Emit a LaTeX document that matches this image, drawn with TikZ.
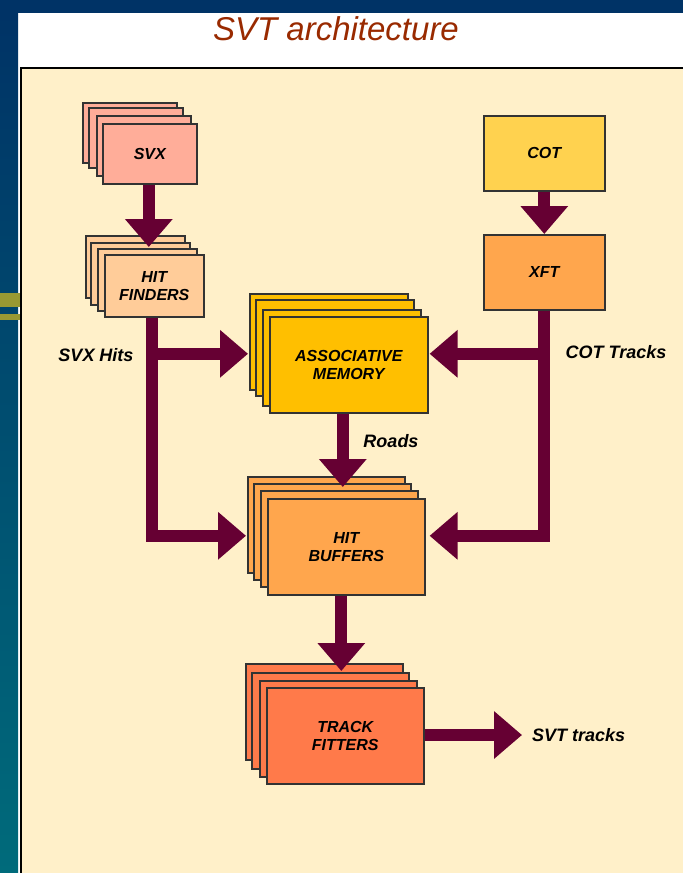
\documentclass[tikz,border=0pt]{standalone}
\usepackage{fontspec}
\setmainfont{Liberation Sans}
\usetikzlibrary{arrows.meta}
\definecolor{cream}{HTML}{FFF0C9}
\definecolor{svxc}{HTML}{FFAD99}
\definecolor{hfc}{HTML}{FFCC99}
\definecolor{amc}{HTML}{FFBF00}
\definecolor{hbc}{HTML}{FFA64D}
\definecolor{tfc}{HTML}{FF7A4A}
\definecolor{cotc}{HTML}{FFD24F}
\definecolor{xftc}{HTML}{FFA64D}
\definecolor{arrowc}{HTML}{660033}
\definecolor{boxline}{HTML}{333333}
\definecolor{titlec}{HTML}{992A00}
\definecolor{navy}{HTML}{003366}
\definecolor{tealb}{HTML}{006B7B}
\definecolor{olive}{HTML}{999933}
\begin{document}
\begin{tikzpicture}[x=1pt,y=-1pt,
  box/.style={draw=boxline, line width=1.6pt, anchor=north west, inner sep=0pt, align=center,
              font=\fontsize{16}{18}\selectfont\bfseries\itshape},
  svxbox/.style={box, fill=svxc, minimum width=94pt, minimum height=60pt},
  hfbox/.style={box, fill=hfc, minimum width=99pt, minimum height=62pt},
  ambox/.style={box, fill=amc, minimum width=158pt, minimum height=96pt},
  hbbox/.style={box, fill=hbc, minimum width=157pt, minimum height=96pt},
  tfbox/.style={box, fill=tfc, minimum width=157pt, minimum height=96pt},
  cotbox/.style={box, minimum width=121pt, minimum height=75pt},
  bigarrow/.style={draw=arrowc, line width=12pt, line join=miter, -{Triangle[width=46pt,length=28pt]}},
  lbl/.style={font=\fontsize{18}{20}\selectfont\bfseries\itshape, inner sep=0pt}
]
\useasboundingbox (0,0) rectangle (683,873);
% background
\fill[white] (0,0) rectangle (683,873);
\fill[navy] (0,0) rectangle (683,13);
\shade[top color=navy, bottom color=tealb] (0,13) rectangle (18,873);
\fill[navy] (0,0) rectangle (18,13);
\fill[olive] (0,293) rectangle (20,307);
\fill[olive] (0,314) rectangle (20,320);
\fill[cream] (21,68) rectangle (683,873);
\draw[black, line width=2pt] (20.5,873) -- (20.5,68) -- (683,68);
% title
\node[font=\fontsize{33}{36}\selectfont\itshape, text=titlec, inner sep=0pt] (title) at (336,29) {SVT architecture};

% SVX stack
\node[svxbox] (svx1) at (82,102) {};
\node[svxbox] (svx2) at (88,107) {};
\node[svxbox] (svx3) at (96,115) {};
\node[svxbox] (svx4) at (102,123) {SVX};
% HIT FINDERS stack
\node[hfbox] (hf1) at (85,235) {};
\node[hfbox] (hf2) at (90,242) {};
\node[hfbox] (hf3) at (97,248) {};
\node[hfbox] (hf4) at (104,254) {HIT\\FINDERS};
% COT / XFT
\node[cotbox, fill=cotc] (cot) at (483,115) {COT};
\node[cotbox, fill=xftc] (xft) at (483,234) {XFT};
% AM stack
\node[ambox] (am1) at (249,293) {};
\node[ambox] (am2) at (255,299) {};
\node[ambox] (am3) at (262,309) {};
\node[ambox] (am4) at (269,316) {ASSOCIATIVE\\MEMORY};
% HB stack
\node[hbbox] (hb1) at (247,476) {};
\node[hbbox] (hb2) at (253,483) {};
\node[hbbox] (hb3) at (260,490) {};
\node[hbbox] (hb4) at (267,498) {HIT\\BUFFERS};
% TF stack
\node[tfbox] (tf1) at (245,663) {};
\node[tfbox] (tf2) at (251,672) {};
\node[tfbox] (tf3) at (259,680) {};
\node[tfbox] (tf4) at (266,687) {TRACK\\FITTERS};

% connector end points
\coordinate (svxOut) at ([xshift=-1pt]svx4.south);
\coordinate (hfTip) at ([yshift=7pt]svxOut |- hf4.north);
\coordinate (hfOut) at ([xshift=-2pt]hf4.south);
\coordinate (amL) at ([xshift=-1pt,yshift=-12pt]am1.west);
\coordinate (amR) at ([xshift=1pt,yshift=11pt]am4.east);
\coordinate (hbL) at ([xshift=-1pt,yshift=-11pt]hb1.west);
\coordinate (hbR) at ([xshift=4pt,yshift=11pt]hb4.east);
\coordinate (amOut) at ([xshift=-6pt]am4.south);
\coordinate (hbTip) at ([yshift=-11pt]amOut |- hb1.north);
\coordinate (hbOut) at ([xshift=-5pt]hb4.south);
\coordinate (tfTip) at ([yshift=-8pt]hbOut |- tf1.north);
\coordinate (svtTip) at (522,735);

% connectors
\draw[bigarrow] (svxOut) -- (hfTip);
\draw[bigarrow] (cot) -- (xft);
\draw[bigarrow] (hfOut) |- (hbL);
\draw[bigarrow] (hfOut |- amL) -- (amL);
\draw[bigarrow] (xft.south) |- (hbR);
\draw[bigarrow] (xft.south |- amR) -- (amR);
\draw[bigarrow] (amOut) -- (hbTip);
\draw[bigarrow] (hbOut) -- (tfTip);
\draw[bigarrow] (tf4.east |- svtTip) -- (svtTip);

% labels
\node[lbl] (svxhits) at (96,355) {SVX Hits};
\node[lbl] (cottracks) at (616,352) {COT Tracks};
\node[lbl] (roads) at (391,441) {Roads};
\node[lbl, anchor=west] (svttracks) at (532,735) {SVT tracks};
\end{tikzpicture}
\end{document}
